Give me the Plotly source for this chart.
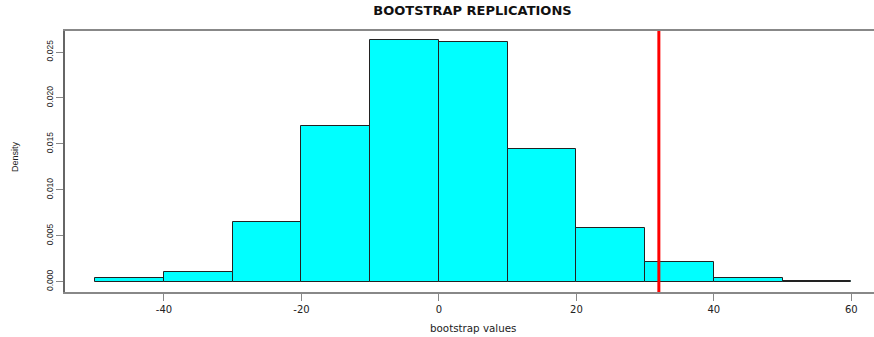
import plotly.graph_objects as go

# Histogram data (density per bin of width 10)
bin_left = [-50, -40, -30, -20, -10, 0, 10, 20, 30, 40, 50]
bin_width = 10
densities = [0.00037, 0.00106, 0.00655, 0.0169, 0.02636, 0.02614, 0.0145, 0.00583, 0.00215, 0.00037, 0.00006]
observed_value = 32

x_ticks = [-40, -20, 0, 20, 40, 60]
y_ticks = [0, 0.005, 0.010, 0.015, 0.020, 0.025]

centers = [b + bin_width / 2 for b in bin_left]

fig = go.Figure()
fig.add_trace(go.Bar(
    x=centers, y=densities, width=bin_width,
    marker=dict(color="#00FFFF", line=dict(color="#222222", width=1)),
    hoverinfo="skip",
))

fig.add_shape(type="line", xref="x", yref="paper",
              x0=observed_value, x1=observed_value, y0=0, y1=1,
              line=dict(color="#FF0000", width=3))

wide_font = "DejaVu Sans, Verdana, sans-serif"
narrow_font = "Liberation Sans, Arial, sans-serif"

fig.update_layout(
    width=874, height=337,
    margin=dict(l=65, r=0, t=31, b=45, autoexpand=False),
    paper_bgcolor="white", plot_bgcolor="white",
    showlegend=False,
    bargap=0,
    font=dict(family=wide_font, size=10, color="#222222"),
    title=dict(text="<b>BOOTSTRAP REPLICATIONS</b>", x=0.5406, xanchor="center",
               y=0.969, yanchor="middle", xref="container", yref="container",
               font=dict(family=wide_font, size=13, color="#111111")),
    xaxis=dict(range=[-54.4, 63.3], tickvals=x_ticks, ticktext=[str(v) for v in x_ticks],
               automargin=False,
               showgrid=False, zeroline=False, showline=True, linecolor="#888888",
               linewidth=1.5, mirror=True, ticks="outside", ticklen=7,
               tickcolor="#888888", tickwidth=1,
               tickfont=dict(family=wide_font, size=10, color="#222222")),
    yaxis=dict(range=[-0.00112, 0.02729], tickvals=y_ticks,
               ticktext=["%.3f" % v for v in y_ticks], automargin=False,
               showgrid=False, zeroline=False, showline=True, linecolor="#666666",
               linewidth=1.5, ticks="outside", ticklen=7, tickcolor="#888888",
               tickwidth=1, tickangle=-90,
               tickfont=dict(family=narrow_font, size=8.5, color="#222222")),
    annotations=[
        dict(text="bootstrap values", xref="paper", yref="paper", x=0.504, y=-0.138,
             xanchor="center", yanchor="middle", showarrow=False,
             font=dict(family=wide_font, size=10.3, color="#222222")),
        dict(text="Density", xref="paper", yref="paper", x=-0.0618, y=0.517,
             xanchor="center", yanchor="middle", showarrow=False, textangle=-90,
             font=dict(family=narrow_font, size=9, color="#222222")),
    ],
)

fig.write_html(
    "out.html",
    config={"displayModeBar": False},
    post_script="document.body.style.margin='0';document.body.style.padding='0';"
                "document.documentElement.style.overflow='hidden';"
                "document.body.style.overflow='hidden';",
)
